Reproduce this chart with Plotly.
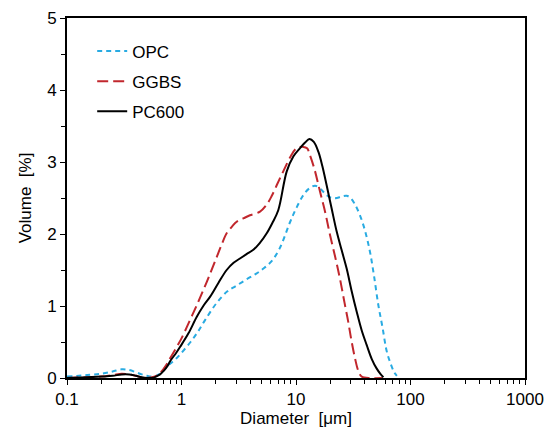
import plotly.graph_objects as go

# Particle size distributions
opc_d = [0.1, 0.15, 0.2, 0.25, 0.3, 0.35, 0.4, 0.45, 0.5, 0.55, 0.6, 0.65, 0.7, 0.75,
         0.8, 0.9, 1.0, 1.2, 1.4, 1.6, 2.0, 2.5, 3.0, 3.7, 4.5, 5.2, 6.1, 7.2, 8.9, 10,
         11.6, 13, 14.7, 16.5, 18.5, 20.5, 22.7, 25, 27.7, 30, 33, 36.2, 40, 44.3, 48,
         52.4, 57, 62, 67, 72, 76]
opc_v = [0.02, 0.04, 0.06, 0.09, 0.12, 0.11, 0.08, 0.05, 0.03, 0.02, 0.03, 0.06, 0.11, 0.16,
         0.20, 0.27, 0.35, 0.50, 0.65, 0.80, 1.03, 1.20, 1.28, 1.37, 1.45, 1.52, 1.62, 1.80, 2.17, 2.35,
         2.54, 2.63, 2.67, 2.62, 2.54, 2.50, 2.50, 2.52, 2.53, 2.50, 2.40, 2.26, 2.05, 1.75, 1.42,
         1.01, 0.70, 0.37, 0.20, 0.08, 0.03]

ggbs_d = [0.1, 0.15, 0.2, 0.25, 0.3, 0.35, 0.4, 0.45, 0.5, 0.55, 0.6, 0.65, 0.7, 0.75,
          0.8, 0.9, 1.0, 1.19, 1.35, 1.55, 1.8, 2.03, 2.25, 2.48, 2.75, 3.03, 3.5, 3.96, 4.85,
          5.5, 6.1, 6.8, 7.74, 9, 10.1, 11.6, 12.5, 13.2, 14.5, 16.2, 18, 19.8, 22, 24.2,
          26.5, 28.6, 30.5, 32.8, 35, 37.5, 45, 57]
ggbs_v = [0.0, 0.01, 0.02, 0.04, 0.06, 0.05, 0.03, 0.01, 0.0, 0.01, 0.03, 0.07, 0.13, 0.2,
          0.28, 0.42, 0.55, 0.81, 1.0, 1.22, 1.47, 1.68, 1.86, 2.01, 2.10, 2.17, 2.22, 2.26, 2.31,
          2.40, 2.52, 2.68, 2.87, 3.08, 3.19, 3.21, 3.19, 3.10, 2.90, 2.59, 2.30, 1.99, 1.68, 1.38,
          1.05, 0.78, 0.52, 0.27, 0.10, 0.02, 0.0, 0.0]

pc600_d = [0.1, 0.15, 0.2, 0.25, 0.3, 0.35, 0.4, 0.45, 0.5, 0.55, 0.6, 0.65, 0.7, 0.75,
           0.8, 0.9, 0.97, 1.15, 1.36, 1.55, 1.78, 2.1, 2.48, 2.85, 3.24, 3.7, 4.24, 4.8, 5.55,
           6.2, 7.0, 8.3, 9.5, 10.8, 12, 13.1, 14.3, 15.7, 17, 18.5, 20.5, 22.7, 25, 27.7,
           30.5, 33.9, 37.5, 41.4, 46, 50.7, 55, 58]
pc600_v = [0.0, 0.01, 0.02, 0.03, 0.05, 0.05, 0.03, 0.01, 0.0, 0.0, 0.02, 0.05, 0.10, 0.16,
           0.24, 0.35, 0.43, 0.62, 0.85, 1.0, 1.13, 1.32, 1.50, 1.60, 1.66, 1.72, 1.78, 1.87, 2.01,
           2.15, 2.33, 2.87, 3.08, 3.19, 3.27, 3.32, 3.28, 3.14, 2.94, 2.68, 2.35, 2.03, 1.78, 1.52,
           1.22, 0.92, 0.66, 0.46, 0.26, 0.13, 0.05, 0.01]

x_ticks = [0.1, 1, 10, 100, 1000]
x_tick_text = ["0.1", "1", "10", "100", "1000"]
x_minor = [m * 10 ** e for e in range(-1, 3) for m in range(2, 10)]

FONT = "Liberation Sans, Arial, sans-serif"

fig = go.Figure()
fig.add_trace(go.Scatter(x=opc_d, y=opc_v, name="OPC", mode="lines", legendgroup="a",
                         line=dict(color="#29abe2", width=2, dash="5px,4px", shape="spline")))
fig.add_trace(go.Scatter(x=ggbs_d, y=ggbs_v, name="GGBS", mode="lines", legendgroup="b",
                         line=dict(color="#c1272d", width=2, dash="11px,5px", shape="spline")))
fig.add_trace(go.Scatter(x=pc600_d, y=pc600_v, name="PC600", mode="lines", legendgroup="c",
                         line=dict(color="black", width=2, shape="spline")))

# the page body adds ~8px, so margins are offset to land the plot box where the reference has it
fig.update_layout(
    width=553, height=432,
    margin=dict(l=59, r=36, t=10, b=62),
    paper_bgcolor="white", plot_bgcolor="white",
    font=dict(family=FONT, size=17, color="black"),
    legend=dict(x=0.055, y=0.957, xanchor="left", yanchor="top", traceorder="grouped",
                bgcolor="rgba(0,0,0,0)", font=dict(size=17), tracegroupgap=5),
    xaxis=dict(type="log", range=[-1, 3], tickvals=x_ticks, ticktext=x_tick_text,
               ticks="outside", ticklen=5, tickwidth=1, tickcolor="black", automargin=False,
               showline=True, linecolor="black", linewidth=2, mirror=True,
               showgrid=False, zeroline=False,
               minor=dict(tickvals=x_minor, ticks="outside", ticklen=4, tickcolor="black", showgrid=False),
               title=dict(text="Diameter  [μm]", font=dict(size=17), standoff=2)),
    yaxis=dict(range=[0, 5], dtick=1, ticks="outside", ticklen=5, tickwidth=1, tickcolor="black",
               automargin=False,
               showline=True, linecolor="black", linewidth=2, mirror=True,
               showgrid=False, zeroline=False,
               minor=dict(dtick=0.5, ticks="outside", ticklen=4, tickcolor="black", showgrid=False),
               title=dict(text="Volume  [%]", font=dict(size=17), standoff=11)),
)

fig.write_html("out.html")
